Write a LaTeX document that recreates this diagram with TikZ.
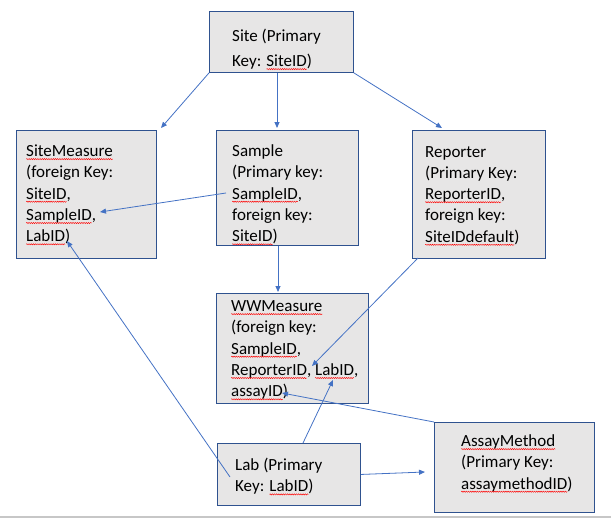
\documentclass[tikz,border=0pt]{standalone}
\usepackage{fontspec}
\setmainfont{Carlito}
\usepackage{xcolor}
\usetikzlibrary{arrows.meta,positioning,calc,decorations.pathmorphing}

\definecolor{boxfill}{HTML}{E7E6E6}
\definecolor{boxline}{HTML}{2F528F}
\definecolor{linkblue}{HTML}{4472C4}

% red wavy underline for the spell-checked words
\newcommand{\spell}[1]{\tikz[baseline=(w.base),x=1pt,y=1pt]{%
  \node[inner sep=0pt,outer sep=0pt,anchor=base west] (w) at (0,0) {#1};
  \draw[overlay,red,line width=0.45pt,decorate,
        decoration={snake,amplitude=0.6pt,segment length=2.2pt}]
    ([yshift=-2.6pt]w.base west) -- ([yshift=-2.6pt]w.base east);}}

\begin{document}
\begin{tikzpicture}[
    x=1pt, y=-1pt,
    ebox/.style={draw=boxline,fill=boxfill,line width=0.9pt,anchor=north west,
                 inner sep=0pt},
    % anchored at the baseline of the last line
    etext/.style={anchor=base west,align=left,inner sep=0pt,
                  font=\fontsize{17}{21.3}\selectfont},
    link/.style={-{Triangle[length=6pt,width=5pt]},linkblue,line width=0.8pt},
  ]
  \useasboundingbox (0,0) rectangle (611,519);

  % --- tables ---
  \node[ebox,minimum width=144pt,minimum height=61pt]  (site)        at (209,11)  {};
  \node[ebox,minimum width=140pt,minimum height=128pt] (sitemeasure) at (16,130)  {};
  \node[ebox,minimum width=142pt,minimum height=115pt] (sample)      at (216,130) {};
  \node[ebox,minimum width=133pt,minimum height=128pt] (reporter)    at (412,130) {};
  \node[ebox,minimum width=152pt,minimum height=110pt] (wwmeasure)   at (216,293) {};
  \node[ebox,minimum width=143pt,minimum height=62pt]  (lab)         at (217,443) {};
  \node[ebox,minimum width=160pt,minimum height=90pt]  (assaymethod) at (434,422) {};

  % --- table texts ---
  \node[etext,font=\fontsize{17}{25}\selectfont] (site-t) at (232,66.5)
    {Site (Primary\\Key: \spell{SiteID})};
  \node[etext] (sitemeasure-t) at (26,241.7)
    {\spell{SiteMeasure}\\(foreign Key:\\\spell{SiteID},\\\spell{SampleID},\\\spell{LabID})};
  \node[etext] (sample-t) at (232,241.7)
    {Sample\\(Primary key:\\\spell{SampleID},\\foreign key:\\\spell{SiteID})};
  \node[etext] (reporter-t) at (425,242.2)
    {Reporter\\(Primary Key:\\\spell{ReporterID},\\foreign key:\\\spell{SiteIDdefault})};
  \node[etext] (wwmeasure-t) at (231,396.7)
    {\spell{WWMeasure}\\(foreign key:\\\spell{SampleID},\\\spell{ReporterID}, \spell{LabID},\\\spell{assayID})};
  \node[etext] (lab-t) at (235,491.8)
    {Lab (Primary\\Key: \spell{LabID})};
  \node[etext] (assaymethod-t) at (461,489.1)
    {\spell{AssayMethod}\\(Primary Key:\\\spell{assaymethodID})};

  % --- arrow ends ---
  \coordinate (sm-in)    at (161,128);
  \coordinate (sa-in)    at (277,128);
  \coordinate (re-in)    at (442,128);
  \coordinate (sa-out)   at (226,193);
  \coordinate (sm-sample) at (100,212);
  \coordinate (ww-in)    at (278,292);
  \coordinate (re-out)   at (418,258);
  \coordinate (ww-rep)   at (312,366);
  \coordinate (lab-up)   at (303,443);
  \coordinate (ww-lab)   at (333,380);
  \coordinate (ww-assay) at (282,393);
  \coordinate (lab-out)  at (230,477);
  \coordinate (sm-lab)   at (67,241);
  \coordinate (am-in)    at (425,472);

  % --- links ---
  \draw[link] (site.south west) -- (sm-in);
  \draw[link] (site.south -| sa-in) -- (sa-in);
  \draw[link] (site.south east) -- (re-in);
  \draw[link] (sa-out) -- (sm-sample);
  \draw[link] (sample.south -| ww-in) -- (ww-in);
  \draw[link] (re-out) -- (ww-rep);
  \draw[link] (lab-up) -- (ww-lab);
  \draw[link] (assaymethod.north west) -- (ww-assay);
  \draw[link] (lab-out) -- (sm-lab);
  \draw[link] (lab.east) -- (am-in);

  % page edge
  \draw[black!22,line width=1.5pt] (0,517) -- (611,517);
\end{tikzpicture}
\end{document}
